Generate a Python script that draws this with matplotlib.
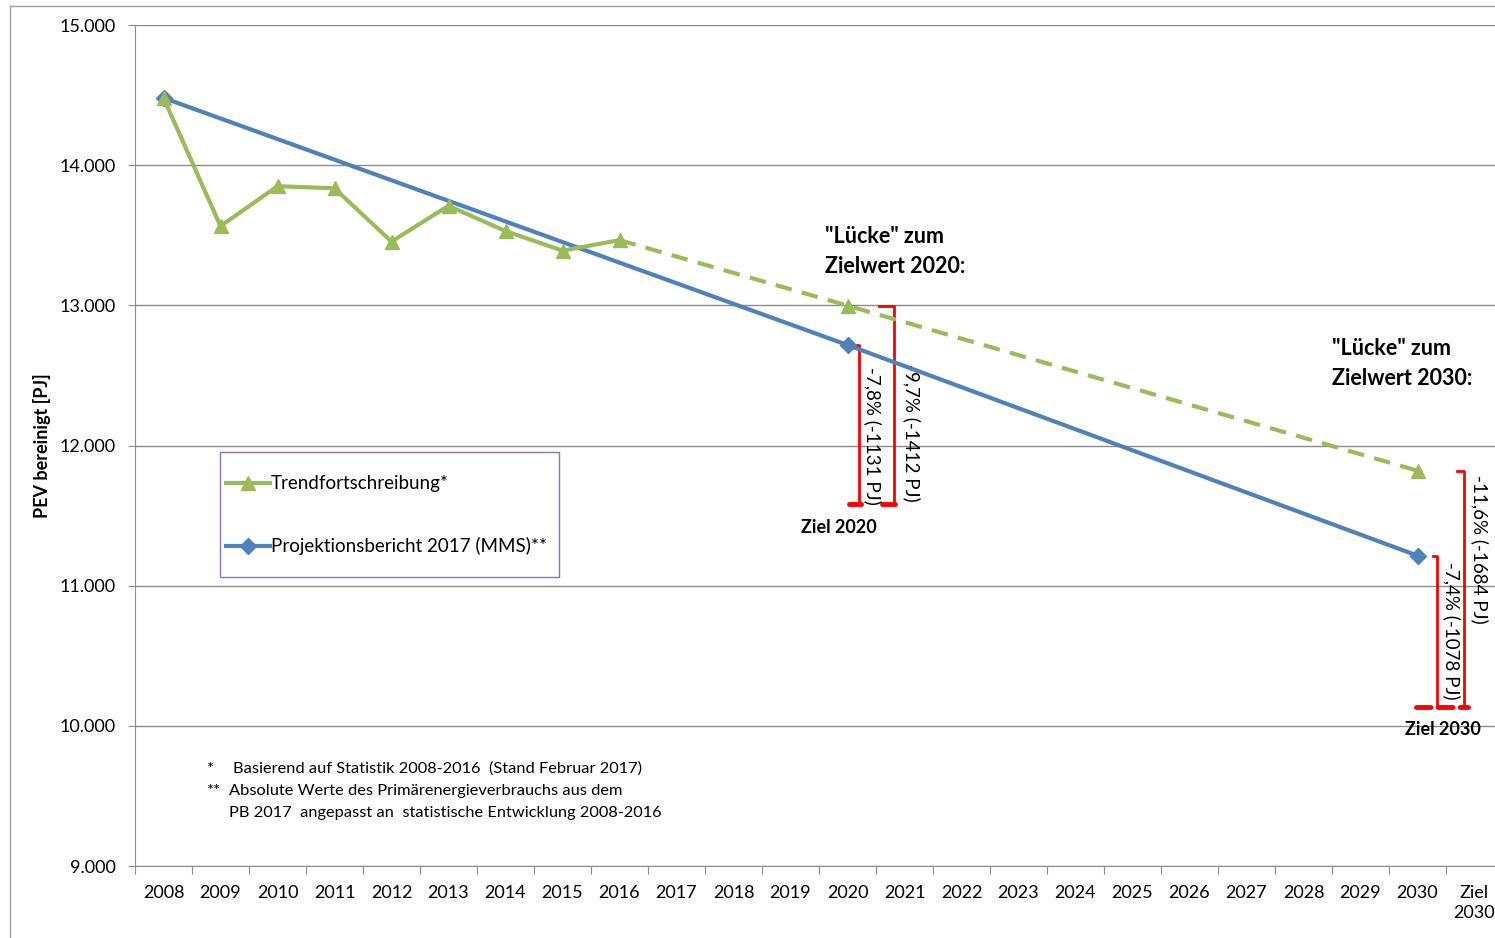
import matplotlib
matplotlib.use('Agg')
import matplotlib.pyplot as plt
from matplotlib.lines import Line2D
from matplotlib.patches import Rectangle

plt.rcParams['font.family'] = ['Lato', 'DejaVu Sans']

# Daten
kategorien = ['2008', '2009', '2010', '2011', '2012', '2013', '2014', '2015', '2016',
              '2017', '2018', '2019', '2020', '2021', '2022', '2023', '2024', '2025',
              '2026', '2027', '2028', '2029', '2030', 'Ziel\n2030']
trend_jahre = ['2008', '2009', '2010', '2011', '2012', '2013', '2014', '2015', '2016']
trend_werte = [14480, 13565, 13850, 13835, 13455, 13710, 13530, 13390, 13465]
trend_proj_jahre = ['2016', '2020', '2030']
trend_proj_werte = [13465, 12998, 11820]
pb_jahre = ['2008', '2020', '2030']
pb_werte = [14480, 12717, 11214]
ziel_2020 = 11586
ziel_2030 = 10136
yticks = [9000, 10000, 11000, 12000, 13000, 14000, 15000]
ytick_labels = ['9.000', '10.000', '11.000', '12.000', '13.000', '14.000', '15.000']

gruen = '#9BBB59'
blau = '#4F81BD'
rot = '#FF0000'
grau = '#8C8C8C'

idx = {k: i for i, k in enumerate(kategorien)}

fig = plt.figure(figsize=(14.95, 9.38), dpi=100)
ax = fig.add_axes([135/1495, 1-866/938, 1368/1495, 841/938])

def px(x, y):
    # Pixel -> Achsenkoordinaten
    return (x - 135) / 1368, (866 - y) / 841

# Rahmen außen
fig.add_artist(Line2D([10/1495, 1], [1-6/938, 1-6/938], color='#A0A0A0', lw=1))
fig.add_artist(Line2D([10/1495, 10/1495], [0, 1-6/938], color='#A0A0A0', lw=1))

ax.plot([idx[j] for j in pb_jahre], pb_werte, color=blau, lw=3, marker='D',
        markersize=8, zorder=4)
ax.plot([idx[j] for j in trend_jahre], trend_werte, color=gruen, lw=3, marker='^',
        markersize=10, zorder=5)
ax.plot([idx[j] for j in trend_proj_jahre], trend_proj_werte, color=gruen, lw=3,
        ls=(0, (4, 2.5)), marker='^', markersize=10, markevery=[1, 2], zorder=5)

# Klammern Ziel 2020
x20 = idx['2020']
ax.plot([x20, x20 + 0.21, x20 + 0.21], [pb_werte[1], pb_werte[1], ziel_2020], color=rot, lw=2)
ax.plot([x20 + 0.56, x20 + 0.82, x20 + 0.82], [trend_proj_werte[1], trend_proj_werte[1], ziel_2020], color=rot, lw=2)
ax.plot([x20 + 0.03, x20 + 0.24], [ziel_2020, ziel_2020], color=rot, lw=3.5, solid_capstyle='round')
ax.plot([x20 + 0.6, x20 + 0.84], [ziel_2020, ziel_2020], color=rot, lw=3.5, solid_capstyle='round')
ax.text(x20 + 0.44, 12071, '-7,8% (-1131 PJ)', rotation=-90, ha='center', va='center', fontsize=13.5)
ax.text(x20 + 1.12, 12093, '-9,7% (-1412 PJ)', rotation=-90, ha='center', va='center', fontsize=13.5)
ax.text(x20 - 0.16, 11414, 'Ziel 2020', ha='center', va='center', fontsize=13, fontweight='bold')
ax.text(x20 - 0.39, 13386, '"Lücke" zum\nZielwert 2020:', ha='left', va='center',
        fontsize=15.5, fontweight='bold', linespacing=1.55)

# Klammern Ziel 2030
x30 = idx['2030']
ax.plot([x30 + 0.27, x30 + 0.35, x30 + 0.35], [pb_werte[2], pb_werte[2], ziel_2030], color=rot, lw=2)
ax.plot([x30 + 0.7, x30 + 0.82, x30 + 0.82], [trend_proj_werte[2], trend_proj_werte[2], ziel_2030], color=rot, lw=2)
ax.plot([x30 - 0.02, x30 + 0.88], [ziel_2030, ziel_2030], color=rot, lw=3.5,
        ls=(0, (3, 1.5)), solid_capstyle='round', dash_capstyle='round')
ax.text(x30 + 0.6, 10679, '-7,4% (-1078 PJ)', rotation=-90, ha='center', va='center', fontsize=13.5)
ax.text(x30 + 1.1, 11257, '-11,6% (-1684 PJ)', rotation=-90, ha='center', va='center', fontsize=13.5)
ax.text(x30 + 0.44, 9971, 'Ziel 2030', ha='center', va='center', fontsize=13, fontweight='bold')
ax.text(x30 - 1.5, 12586, '"Lücke" zum\nZielwert 2030:', ha='left', va='center',
        fontsize=15.5, fontweight='bold', linespacing=1.55)

# Achsen
ax.set_xlim(-0.5, len(kategorien) - 0.5)
ax.set_ylim(9000, 15000)
ax.set_yticks(yticks)
ax.set_yticklabels(ytick_labels, fontsize=13)
ax.set_xticks([i - 0.5 for i in range(len(kategorien) + 1)])
ax.set_xticklabels([])
ax.set_xticks(range(len(kategorien)), minor=True)
ax.set_xticklabels(kategorien, minor=True, fontsize=13, va='top', linespacing=1.3)
ax.tick_params(axis='x', which='major', direction='out', length=6, color=grau)
ax.tick_params(axis='x', which='minor', length=0, pad=14)
ax.tick_params(axis='y', direction='out', length=5, color=grau, pad=9)
ax.grid(axis='y', color=grau, lw=1)
for s in ['top', 'right']:
    ax.spines[s].set_visible(False)
for s in ['left', 'bottom']:
    ax.spines[s].set_color(grau)
ax.set_axisbelow(True)
fig.text(42/1495, 1-446/938, 'PEV bereinigt [PJ]', rotation=90, ha='center', va='center',
         fontsize=13, fontweight='bold')

# Legende (von Hand, wie im Original)
x0, y0 = px(220, 577)
x1, y1 = px(559, 452)
ax.add_patch(Rectangle((x0, y0), x1 - x0, y1 - y0, transform=ax.transAxes, facecolor='white',
                       edgecolor='#9074B0', lw=1, zorder=6))
for ypx, farbe, mk, ms, txt in [(483, gruen, '^', 10, 'Trendfortschreibung*'),
                                (546, blau, 'D', 8, 'Projektionsbericht 2017 (MMS)**')]:
    xa, ya = px(226, ypx)
    xb, _ = px(270, ypx)
    xm, _ = px(248, ypx)
    ax.add_line(Line2D([xa, xb], [ya, ya], transform=ax.transAxes, color=farbe, lw=3, zorder=7))
    ax.add_line(Line2D([xm], [ya], transform=ax.transAxes, color=farbe, marker=mk,
                       markersize=ms, zorder=7))
    xt, _ = px(271, ypx)
    ax.text(xt, ya, txt, transform=ax.transAxes, ha='left', va='center', fontsize=13.5, zorder=8)

# Fußnoten
fn = 11.8
fig.text(207/1495, 1-769/938, '*', fontsize=fn, va='center')
fig.text(233/1495, 1-769/938, 'Basierend auf Statistik 2008-2016  (Stand Februar 2017)', fontsize=fn, va='center')
fig.text(207/1495, 1-791/938, '**', fontsize=fn, va='center')
fig.text(229/1495, 1-791/938, 'Absolute Werte des Primärenergieverbrauchs aus dem', fontsize=fn, va='center')
fig.text(229/1495, 1-813/938, 'PB 2017  angepasst an  statistische Entwicklung 2008-2016', fontsize=fn, va='center')

fig.savefig('out.png', dpi=100)
